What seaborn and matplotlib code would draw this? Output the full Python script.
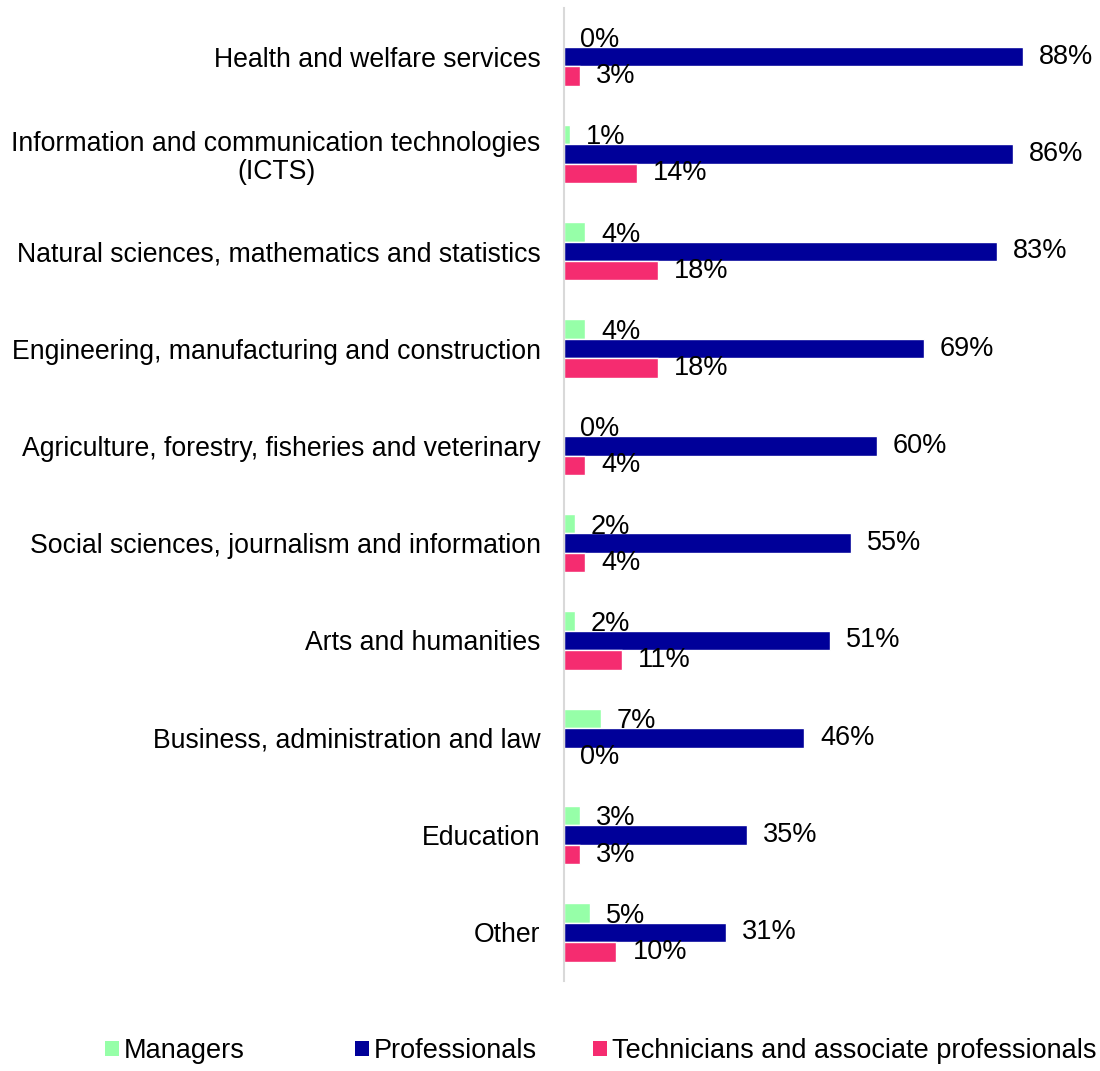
import matplotlib
matplotlib.use("Agg")
import matplotlib.pyplot as plt
from matplotlib.patches import Patch
import seaborn as sns
import pandas as pd

categories = [
    "Health and welfare services",
    "Information and communication technologies\n(ICTS)",
    "Natural sciences, mathematics and statistics",
    "Engineering, manufacturing and construction",
    "Agriculture, forestry, fisheries and veterinary",
    "Social sciences, journalism and information",
    "Arts and humanities",
    "Business, administration and law",
    "Education",
    "Other",
]
groups = ["Managers", "Professionals", "Technicians and associate professionals"]
managers = [0, 1, 4, 4, 0, 2, 2, 7, 3, 5]
professionals = [88, 86, 83, 69, 60, 55, 51, 46, 35, 31]
technicians = [3, 14, 18, 18, 4, 4, 11, 0, 3, 10]
colors = ["#96FFA8", "#000099", "#F52C70"]

rows = []
for g, vals in zip(groups, [managers, professionals, technicians]):
    for c, v in zip(categories, vals):
        rows.append({"category": c, "group": g, "value": v})
df = pd.DataFrame(rows)

sns.set_theme(style="white")
plt.rcParams["font.family"] = ["Liberation Sans", "DejaVu Sans"]
fs = 19.5
tick_fs = 19.2

fig = plt.figure(figsize=(11, 10.71), dpi=100)
ax = fig.add_axes([0.513, 0.084, 0.474, 0.9085])

sns.barplot(data=df, x="value", y="category", hue="group", orient="h",
            palette=colors, width=0.6, ax=ax, legend=False, saturation=1)

for i, cont in enumerate(ax.containers):
    texts = ax.bar_label(cont, labels=[f"{v:.0f}%" for v in cont.datavalues],
                         padding=11.5, fontsize=fs, color="black")
    if i == 0:
        # managers labels sit a touch low, on top of the blue bar
        for t in texts:
            x, y = t.xyann
            t.xyann = (x, y - 2)

ax.set_xlim(0, 100)
ax.set_ylim(len(categories) - 0.5, -0.5)
ax.set_xlabel("")
ax.set_ylabel("")
ax.set_xticks([])
ax.tick_params(axis="y", length=0, pad=17, labelsize=tick_fs, labelcolor="black")
for lbl in ax.get_yticklabels():
    lbl.set_multialignment("center")
    lbl.set_linespacing(1.1)
for side in ["top", "right", "bottom"]:
    ax.spines[side].set_visible(False)
ax.spines["left"].set_color("#d9d9d9")
ax.spines["left"].set_linewidth(1.5)

# one legend per entry so the uneven spacing of the original is kept
legend_x = [105, 355, 593]
for g, c, x in zip(groups, colors, legend_x):
    fig.legend([Patch(facecolor=c, edgecolor="none")], [g], loc="center left",
               bbox_to_anchor=(x / 1100, 20 / 1071), frameon=False, fontsize=fs,
               handlelength=0.5, handleheight=0.5, handletextpad=0.2,
               borderpad=0, borderaxespad=0, labelcolor="black")

fig.savefig("out.png", dpi=100)
